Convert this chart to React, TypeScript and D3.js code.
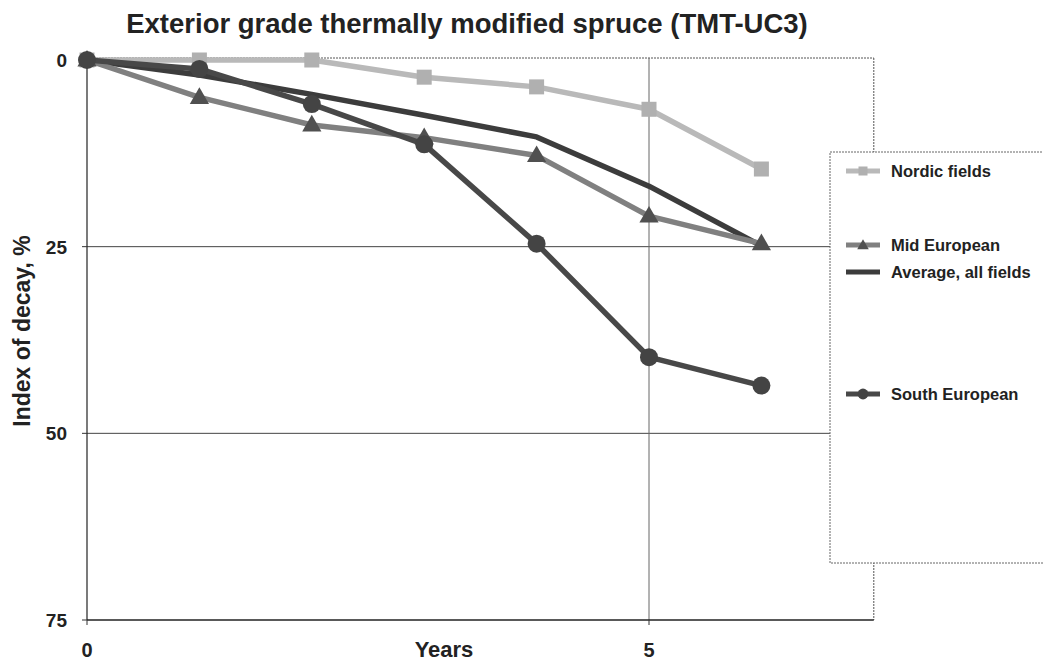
import React from "react";
import * as d3 from "d3";

const years = [0, 1, 2, 3, 4, 5, 6];
const nordic = [0, 0, 0, 2.3, 3.6, 6.6, 14.6];
const midEuropean = [0, 5.0, 8.7, 10.4, 12.8, 20.9, 24.6];
const averageAll = [0, 2.0, 4.6, 7.4, 10.3, 16.9, 24.9];
const southEuropean = [0, 1.2, 5.9, 11.3, 24.6, 39.8, 43.6];

const yTicks = [0, 25, 50, 75];
const xTicks = [0, 5];
const legendNames = ["Nordic fields", "Mid European", "Average, all fields", "South European"];

const W = 1043;
const H = 661;
const FONT = "'Liberation Sans', Arial, sans-serif";

type Series = { name: string; values: number[]; color: string; marker: string; markerColor: string; width: number };

// drawing order (back to front)
const series: Series[] = [
  { name: "Nordic fields", values: nordic, color: "#b9b9b9", marker: "square", markerColor: "#b0b0b0", width: 5.5 },
  { name: "Average, all fields", values: averageAll, color: "#3c3c3c", marker: "none", markerColor: "#3c3c3c", width: 5.5 },
  { name: "Mid European", values: midEuropean, color: "#808080", marker: "triangle", markerColor: "#505050", width: 5.5 },
  { name: "South European", values: southEuropean, color: "#484848", marker: "circle", markerColor: "#444444", width: 5.5 },
];

const legendY = [171, 245, 272, 394];

function Marker({ kind, x, y, color, s = 1 }: { kind: string; x: number; y: number; color: string; s?: number }) {
  if (kind === "square") {
    const h = 7.5 * s;
    return <rect x={x - h} y={y - h} width={2 * h} height={2 * h} fill={color} />;
  }
  if (kind === "triangle") {
    const sym = d3.symbol().type(d3.symbolTriangle).size(160 * s * s)();
    return <path d={sym || ""} transform={`translate(${x},${y + 1})`} fill={color} />;
  }
  if (kind === "circle") {
    return <circle cx={x} cy={y} r={9 * s} fill={color} />;
  }
  return null;
}

export default function App() {
  const x = d3.scaleLinear().domain([0, 5]).range([87, 649]);
  const y = d3.scaleLinear().domain([0, 75]).range([60, 620]);
  const xMax = x(7);
  const line = d3
    .line<number>()
    .x((_, i) => x(years[i]))
    .y((d) => y(d));

  return (
    <svg
      width={W}
      height={H}
      style={{ position: "absolute", left: 0, top: 0, background: "#fff" }}
      fontFamily={FONT}
    >
      <rect x={0} y={0} width={W} height={H} fill="#fff" />
      <text x={467} y={33} textAnchor="middle" fontSize={27.5} fontWeight="bold" fill="#222">
        Exterior grade thermally modified spruce (TMT-UC3)
      </text>

      {/* plot frame */}
      <line x1={x(0)} x2={xMax} y1={y(0) - 2} y2={y(0) - 2} stroke="#555" strokeWidth={1} strokeDasharray="2,1" />
      <line x1={xMax} x2={xMax} y1={y(0) - 2} y2={y(75)} stroke="#555" strokeWidth={1} strokeDasharray="2,1" />

      {/* gridlines */}
      {[25, 50].map((t) => (
        <line key={t} x1={x(0)} x2={xMax} y1={y(t)} y2={y(t)} stroke="#444" strokeWidth={1} />
      ))}
      <line x1={x(5)} x2={x(5)} y1={y(0) - 2} y2={y(75)} stroke="#666" strokeWidth={1} />

      {/* axes */}
      <line x1={x(0)} x2={x(0)} y1={y(0)} y2={y(75)} stroke="#222" strokeWidth={1.2} />
      <line x1={x(0)} x2={xMax} y1={y(75)} y2={y(75)} stroke="#222" strokeWidth={1.5} />
      {yTicks.map((t) => (
        <g key={t}>
          <line x1={x(0) - 5} x2={x(0)} y1={y(t)} y2={y(t)} stroke="#333" />
          <text x={67} y={y(t) + 7} textAnchor="end" fontSize={19} fontWeight="bold" fill="#222">
            {t}
          </text>
        </g>
      ))}
      {xTicks.map((t) => (
        <g key={t}>
          <line x1={x(t)} x2={x(t)} y1={y(75)} y2={y(75) + 5} stroke="#333" />
          <text x={x(t)} y={657} textAnchor="middle" fontSize={20} fontWeight="bold" fill="#222">
            {t}
          </text>
        </g>
      ))}
      <text x={444} y={657} textAnchor="middle" fontSize={22} fontWeight="bold" fill="#222">
        Years
      </text>
      <text
        transform={`translate(30,331) rotate(-90)`}
        textAnchor="middle"
        fontSize={23}
        fontWeight="bold"
        fill="#222"
      >
        Index of decay, %
      </text>

      {/* series */}
      {series.map((s) => (
        <g key={s.name}>
          <path d={line(s.values) || ""} fill="none" stroke={s.color} strokeWidth={s.width} strokeLinejoin="round" strokeLinecap="round" />
          {s.values.map((v, i) => (
            <Marker key={i} kind={s.marker} x={x(years[i])} y={y(v)} color={s.markerColor} />
          ))}
        </g>
      ))}

      {/* legend */}
      <rect x={830} y={152} width={240} height={411} fill="#fff" stroke="#666" strokeWidth={1} strokeDasharray="2,1" />
      {legendNames.map((name, k) => {
        const s = series.find((q) => q.name === name)!;
        const ly = legendY[k];
        return (
          <g key={name}>
            <line x1={846} x2={880} y1={ly} y2={ly} stroke={s.color} strokeWidth={5} />
            <Marker kind={s.marker} x={863} y={ly} color={s.markerColor} s={0.6} />
            <text x={891} y={ly + 6} fontSize={16.5} fontWeight="bold" fill="#222">
              {name}
            </text>
          </g>
        );
      })}
    </svg>
  );
}
